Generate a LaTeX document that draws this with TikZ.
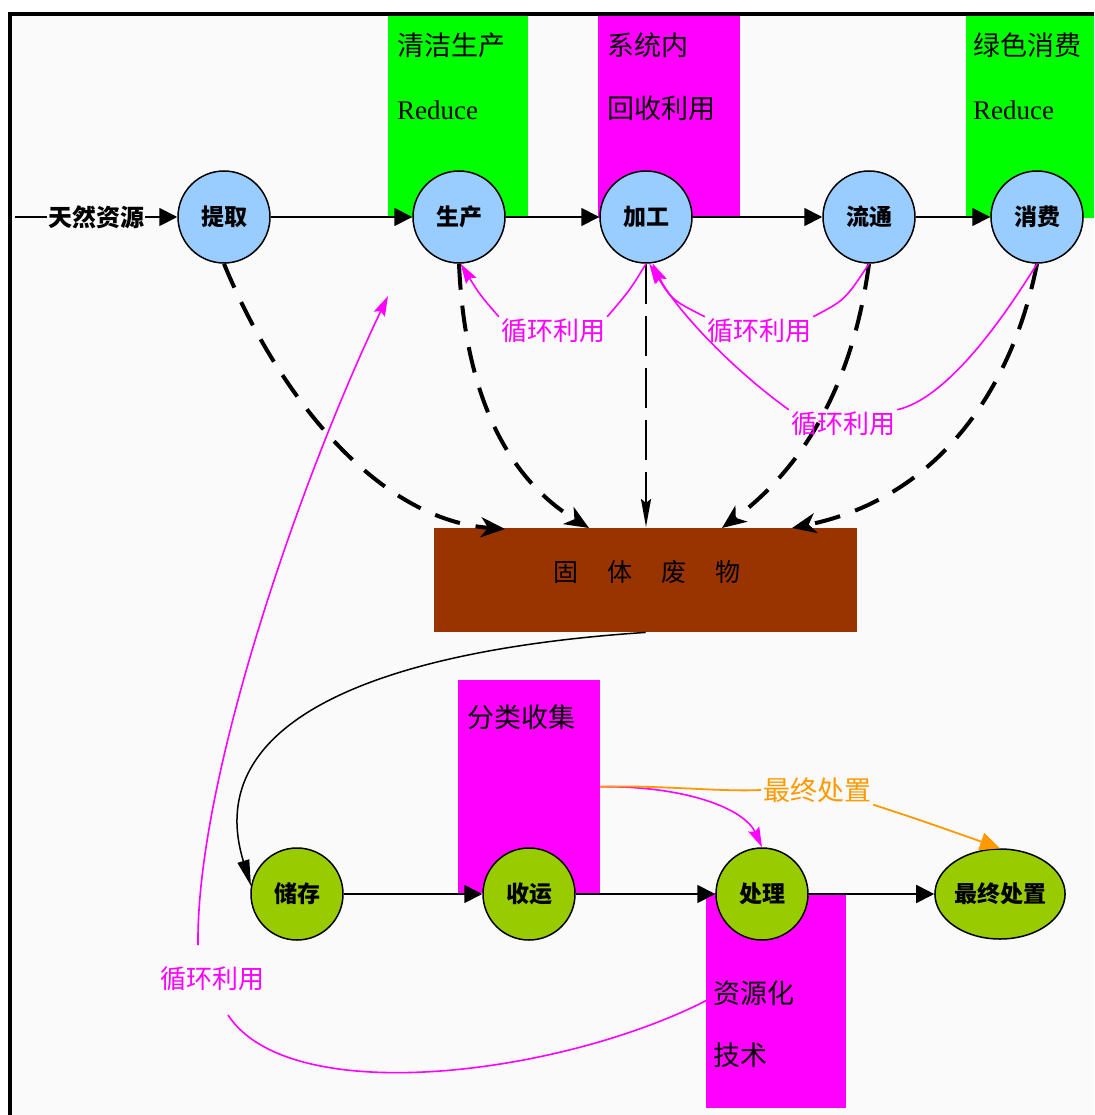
\documentclass[tikz,border=0pt]{standalone}
\usepackage{fontspec}
\setmainfont{Liberation Serif}
\newfontfamily\cjk{Noto Sans CJK SC}
\usetikzlibrary{arrows.meta,shapes.geometric}
\definecolor{bgc}{RGB}{250,250,250}
\definecolor{bluen}{RGB}{153,204,255}
\definecolor{greenn}{RGB}{153,204,0}
\definecolor{gbox}{RGB}{0,255,0}
\definecolor{mbox}{RGB}{255,0,255}
\definecolor{wastec}{RGB}{153,51,0}
\definecolor{orng}{RGB}{255,153,0}
\begin{document}
\begin{tikzpicture}[x=1pt,y=-1pt,
  bnode/.style={circle,draw=black,line width=1.5pt,fill=bluen,minimum size=92pt,inner sep=0pt,font=\cjk\bfseries\fontsize{23}{23}\selectfont},
  gnode/.style={circle,draw=black,line width=1.5pt,fill=greenn,minimum size=92pt,inner sep=0pt,font=\cjk\bfseries\fontsize{23}{23}\selectfont},
  flow/.style={line width=1.8pt,-{Triangle[length=18pt,width=18pt]}},
  waste/.style={line width=4pt,dash pattern=on 26pt off 16pt,-{Stealth[length=24pt,width=20pt,inset=7pt]}},
  wastethin/.style={line width=2.5pt,dash pattern=on 40pt off 12pt,-{Stealth[length=28pt,width=10pt,inset=4pt]}},
  rec/.style={draw=mbox,line width=1.6pt},
  recarr/.style={rec,-{Stealth[length=20pt,width=12pt,inset=3pt]}},
  boxlbl/.style={font=\cjk\fontsize{27}{27}\selectfont,inner sep=0pt,anchor=west},
  redlbl/.style={font=\fontsize{27}{27}\selectfont,inner sep=0pt,anchor=west},
  mlbl/.style={font=\cjk\fontsize{26}{26}\selectfont,text=mbox,inner sep=2pt},
  colbox/.style={inner sep=0pt,anchor=north west,draw=none}
]
% background and frame
\fill[white] (0,0) rectangle (1094,1115);
\fill[bgc] (10,14) rectangle (1094,1115);
\useasboundingbox (0,0) rectangle (1094,1115);
\draw[line width=4pt] (8,14) -- (1094,14);
\draw[line width=4pt] (10,12) -- (10,1115);

% coloured boxes
\node[colbox,fill=gbox,minimum width=140pt,minimum height=202pt] (b1) at (388,16) {};
\node[colbox,fill=mbox,minimum width=142pt,minimum height=202pt] (b2) at (598,16) {};
\node[colbox,fill=gbox,minimum width=128pt,minimum height=202pt] (b3) at (966,16) {};
\node[colbox,fill=mbox,minimum width=142pt,minimum height=213pt] (fl) at (458,680) {};
\node[colbox,fill=mbox,minimum width=140pt,minimum height=215pt] (zy) at (706,893) {};
\node[colbox,fill=wastec,minimum width=423pt,minimum height=104pt] (gt) at (434,528) {};

% box texts
\node[boxlbl] (t1) at (397,45) {清洁生产};
\node[redlbl] (t2) at (397,110) {Reduce};
\node[boxlbl] (t3) at (607,45) {系统内};
\node[boxlbl] (t4) at (607,108) {回收利用};
\node[boxlbl] (t5) at (973,45) {绿色消费};
\node[redlbl] (t6) at (973,110) {Reduce};
\node[boxlbl] (t7) at (467,717) {分类收集};
\node[boxlbl] (t8) at (713,993) {资源化};
\node[boxlbl] (t9) at (713,1055) {技术};
\node[font=\cjk\fontsize{25}{25}\selectfont,inner sep=0pt] (gtl) at (647,572) {固\hspace{29pt}体\hspace{29pt}废\hspace{29pt}物};

% nodes
\node[bnode] (tq) at (224,217) {提取};
\node[bnode] (sc) at (459,217) {生产};
\node[bnode] (jg) at (646,217) {加工};
\node[bnode] (lt) at (869,217) {流通};
\node[bnode] (xf) at (1037,217) {消费};
\node[gnode] (cc) at (297,894) {储存};
\node[gnode] (sy) at (529,894) {收运};
\node[gnode] (cl) at (762,894) {处理};
\node[gnode,ellipse,minimum width=130pt,minimum height=90pt] (zz) at (1000,894) {最终处置};

% source
\coordinate (s0) at (15,217);
\node[font=\cjk\bfseries\fontsize{24}{24}\selectfont,inner sep=1pt,fill=bgc] (src) at (96,217) {天然资源};
\draw[line width=1.8pt] (s0) -- (src.west);
\draw[flow] (src.east) -- (tq.west);

% main flows
\draw[flow] (tq) -- (sc);
\draw[flow] (sc) -- (jg);
\draw[flow] (jg) -- (lt);
\draw[flow] (lt) -- (xf);
\draw[flow] (cc) -- (sy);
\draw[flow] (sy) -- (cl);
\draw[flow] (cl) -- (zz);

% waste arrows
\coordinate (w1) at (505,529);
\coordinate (w2) at (589,528);
\coordinate (w3) at (646,527);
\coordinate (w4) at (722,528);
\coordinate (w5) at (792,528);
\draw[waste] (tq.south) .. controls (280,400) and (380,520) .. (w1);
\draw[waste] (sc.south) .. controls (465,400) and (510,480) .. (w2);
\draw[wastethin] (jg.south) -- (w3);
\draw[waste] (lt.south) .. controls (852,390) and (800,470) .. (w4);
\draw[waste] (xf.south) .. controls (1010,400) and (930,500) .. (w5);

% recycling labels
\node[mlbl] (r1) at (553,331) {循环利用};
\node[mlbl] (r2) at (759,331) {循环利用};
\node[mlbl] (r3) at (843,424) {循环利用};
\node[mlbl] (r4) at (212,979) {循环利用};

\draw[rec] (jg.south) .. controls (630,290) .. (r1.north east);
\draw[recarr] (r1.north west) .. controls (480,295) .. (sc.-88);
\draw[rec] (lt.south) .. controls (845,300) .. (r2.north east);
\draw[recarr] (r2.north west) .. controls (672,300) .. (jg.-86);
\draw[rec] (xf.south) .. controls (990,340) and (940,400) .. (r3.north east);
\draw[recarr] (r3.north west) .. controls (720,360) and (670,300) .. (jg.-82);

\coordinate (r4b) at (228,1015);
\coordinate (r4t) at (198,945);
\coordinate (rtip) at (388,296);
\draw[rec] (zy.west) .. controls (560,1075) and (290,1110) .. (r4b);
\draw[recarr] (r4t) .. controls (196,780) and (300,480) .. (rtip);

% waste to storage
\draw[line width=1.5pt,-{Triangle[length=26pt,width=12pt]}] (gt.south) .. controls (380,650) and (200,720) .. (cc.170);

% sorting branches
\draw[recarr] (fl.east) .. controls (690,786) and (745,810) .. (cl.north);
\node[font=\cjk\fontsize{27}{27}\selectfont,text=orng,inner sep=2pt] (zl) at (817,790) {最终处置};
\draw[draw=orng,line width=1.8pt] (fl.east) .. controls (660,785) and (720,792) .. (zl.west);
\draw[draw=orng,fill=orng,line width=1.8pt,-{Triangle[length=20pt,width=18pt]}] (zl.south east) .. controls (920,820) .. (zz.north);
\end{tikzpicture}
\end{document}
